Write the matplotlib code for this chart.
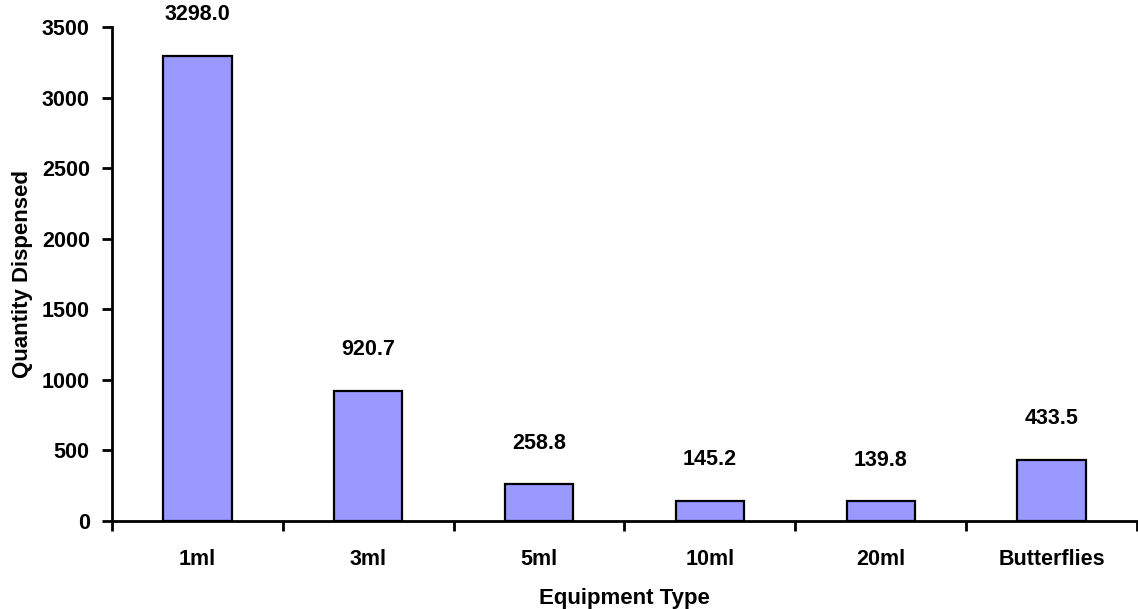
import matplotlib.pyplot as plt
from matplotlib.ticker import FixedLocator, MultipleLocator

# average quantity dispensed per equipment type
equipment = ["1ml", "3ml", "5ml", "10ml", "20ml", "Butterflies"]
quantity = [3298.0, 920.7, 258.8, 145.2, 139.8, 433.5]

plt.rcParams['font.family'] = ['Liberation Sans', 'DejaVu Sans']
plt.rcParams['font.weight'] = 'bold'
fs = 15.5

fig = plt.figure(figsize=(11.38, 6.09), dpi=100)
ax = fig.add_axes([112 / 1138, 1 - 521 / 609, 1025 / 1138, 494 / 609])

x = range(len(equipment))
bars = ax.bar(x, quantity, width=0.4, color='#9999FF', edgecolor='black', linewidth=1.6)

# value labels above each bar
for xi, q in zip(x, quantity):
    ax.annotate(f"{q:.1f}", (xi, q), xytext=(0, 22), textcoords='offset points',
                ha='center', va='bottom', fontsize=fs, fontweight='bold')

ax.set_xlim(-0.5, len(equipment) - 0.5)
ax.set_ylim(0, 3500)
ax.yaxis.set_major_locator(MultipleLocator(500))

# category labels centred, tick marks between categories
ax.set_xticks(list(x))
ax.set_xticklabels(equipment)
ax.xaxis.set_minor_locator(FixedLocator([i - 0.5 for i in range(len(equipment) + 1)]))
ax.tick_params(axis='x', which='major', length=0, pad=20, labelsize=fs)
ax.tick_params(axis='x', which='minor', length=7, width=2, direction='out')
ax.tick_params(axis='y', length=7, width=2, direction='out', pad=9, labelsize=fs)

for side in ['top', 'right']:
    ax.spines[side].set_visible(False)
for side in ['left', 'bottom']:
    ax.spines[side].set_linewidth(2)

ax.set_xlabel("Equipment Type", fontsize=16, fontweight='bold', labelpad=13)
ax.set_ylabel("Quantity Dispensed", fontsize=16, fontweight='bold', labelpad=6)

fig.savefig("out.png", dpi=100)
